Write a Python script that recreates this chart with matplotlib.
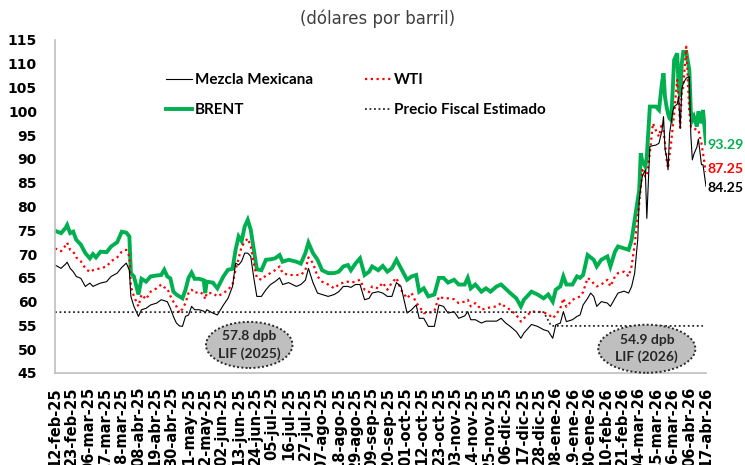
# -*- coding: utf-8 -*-
# Precios del petróleo: Mezcla Mexicana, WTI y BRENT (dólares por barril)
import pandas as pd
import matplotlib
matplotlib.use('Agg')
import matplotlib.pyplot as plt
import matplotlib.dates as mdates
from matplotlib.patches import Ellipse

inicio = pd.Timestamp('2025-02-12')  # día 0 del eje

# días transcurridos desde el 12-feb-25
dias = [0, 4, 7, 8, 10, 12, 14, 17, 20, 23, 25, 27, 30, 34, 37, 41, 44, 47, 49, 50,
        52, 55, 57, 60, 63, 67, 70, 72, 74, 76, 78, 80, 82, 84, 86, 88, 90, 92, 95, 98,
        99, 100, 104, 107, 111, 114, 117, 119, 121, 123, 125, 127, 129, 131, 133, 136, 139, 142, 145, 148,
        150, 154, 159, 162, 165, 167, 170, 173, 176, 180, 184, 187, 190, 193, 195, 198, 201, 204, 207, 209,
        213, 216, 219, 222, 225, 228, 232, 235, 238, 240, 243, 246, 250, 253, 256, 259, 263, 266, 270, 272,
        274, 277, 281, 284, 287, 291, 294, 297, 300, 304, 307, 309, 314, 318, 322, 325, 328, 330, 333, 335,
        337, 341, 344, 346, 348, 351, 353, 355, 357, 360, 364, 366, 369, 371, 375, 378, 380, 382, 384, 385,
        386, 387, 389, 390, 392, 394, 396, 398, 400, 401, 402, 403, 404, 405, 406, 407, 408, 410, 411, 412,
        413, 414, 416, 418, 419, 420, 421, 423, 424, 426, 427, 429]

brent = [74.9, 74.4, 75.5, 76.1, 74.4, 74.7, 73.0, 72.0, 70.2, 69.1, 70.0, 69.3, 70.5, 70.4, 71.6, 72.5, 74.7, 74.5, 73.7, 66.0,
         65.3, 61.5, 64.8, 64.2, 65.3, 65.5, 65.6, 66.7, 65.3, 64.9, 62.1, 61.5, 61.1, 60.7, 62.5, 65.0, 66.1, 64.8, 64.8, 64.5,
         61.8, 64.2, 64.0, 62.8, 65.3, 66.7, 66.9, 70.9, 73.7, 72.7, 75.8, 77.2, 75.1, 70.9, 66.8, 66.6, 68.8, 68.9, 69.1, 69.8,
         68.4, 68.8, 68.4, 68.0, 70.2, 72.4, 70.2, 68.8, 66.6, 66.0, 66.0, 66.3, 67.4, 67.7, 66.6, 68.0, 69.1, 65.6, 66.3, 67.4,
         66.6, 67.5, 66.3, 67.0, 68.8, 67.0, 64.6, 65.3, 65.6, 62.1, 62.8, 61.1, 61.5, 65.0, 65.0, 64.0, 64.6, 63.6, 63.6, 65.0,
         62.8, 63.6, 62.1, 62.8, 62.1, 63.2, 63.6, 62.7, 61.8, 60.7, 59.0, 60.4, 62.1, 61.5, 60.7, 61.5, 60.0, 62.5, 63.2, 65.3,
         63.6, 63.6, 65.3, 65.0, 65.6, 69.8, 69.3, 68.8, 67.4, 68.8, 69.5, 67.4, 70.5, 71.6, 71.2, 70.9, 73.0, 77.2, 81.4, 83.5,
         91.2, 89.5, 88.4, 90.5, 101.0, 101.0, 101.0, 100.3, 106.0, 108.0, 103.0, 101.0, 99.5, 98.5, 98.2, 104.0, 110.8, 112.2, 105.0, 103.1,
         110.0, 112.5, 112.5, 108.7, 100.0, 98.2, 98.9, 96.8, 100.0, 97.5, 100.3, 93.29]

wti = [71.2, 70.6, 71.8, 72.4, 70.9, 70.5, 69.3, 68.5, 67.0, 66.2, 66.6, 66.8, 67.0, 67.4, 68.5, 69.3, 70.5, 70.9, 69.5, 63.2,
       61.1, 59.0, 61.5, 60.5, 62.1, 62.8, 63.6, 63.0, 62.8, 61.2, 60.0, 59.0, 57.6, 58.5, 59.7, 61.8, 62.5, 61.8, 62.1, 61.5,
       60.5, 61.8, 61.8, 61.1, 61.8, 62.5, 63.6, 66.7, 69.1, 71.6, 72.5, 73.3, 71.6, 68.1, 65.0, 64.6, 65.5, 66.0, 66.6, 67.4,
       66.0, 65.6, 65.6, 65.6, 66.6, 69.3, 68.1, 65.3, 64.2, 63.6, 62.8, 63.6, 64.0, 64.2, 64.0, 64.2, 64.6, 62.5, 62.0, 63.2,
       62.8, 64.0, 62.5, 64.0, 65.0, 62.5, 60.7, 61.8, 59.8, 59.0, 57.6, 57.6, 58.0, 61.1, 60.7, 60.7, 60.5, 59.7, 60.0, 60.4,
       59.0, 59.7, 58.3, 58.6, 58.8, 59.0, 59.7, 58.8, 58.3, 57.2, 55.8, 56.5, 57.9, 57.9, 57.7, 57.4, 56.5, 57.2, 58.6, 60.7,
       58.9, 60.4, 60.8, 61.1, 62.0, 65.0, 64.5, 63.8, 63.2, 63.6, 64.6, 63.2, 65.3, 66.0, 66.3, 65.3, 67.5, 72.0, 78.0, 80.7,
       84.0, 87.7, 86.3, 86.3, 91.2, 97.5, 96.0, 94.7, 97.5, 96.0, 93.3, 90.0, 88.0, 91.0, 93.3, 96.5, 99.6, 106.6, 103.0, 96.6,
       104.0, 105.2, 113.6, 100.0, 96.8, 96.8, 96.4, 96.1, 96.1, 93.3, 91.2, 87.25]

mezcla = [67.7, 67.0, 67.9, 68.3, 67.0, 66.3, 65.3, 64.9, 63.2, 63.9, 63.2, 63.5, 63.9, 64.2, 65.3, 66.0, 67.2, 68.1, 66.6, 61.1,
          59.0, 56.9, 58.3, 58.6, 59.3, 59.7, 60.4, 60.2, 60.0, 58.6, 56.9, 55.5, 54.9, 54.8, 56.9, 57.2, 59.0, 58.3, 58.3, 58.0,
          57.6, 58.3, 57.6, 57.2, 59.3, 60.7, 63.2, 68.1, 67.7, 68.5, 70.2, 70.2, 69.5, 65.0, 61.1, 61.1, 62.5, 63.6, 64.2, 65.0,
          63.6, 64.0, 63.2, 63.6, 64.5, 67.0, 64.0, 61.8, 61.5, 61.1, 61.5, 62.1, 63.2, 63.2, 63.0, 63.6, 63.6, 60.4, 60.7, 61.8,
          62.1, 61.8, 61.1, 61.1, 64.0, 63.2, 57.6, 58.3, 59.3, 56.5, 56.5, 54.8, 54.8, 59.3, 59.0, 57.6, 57.9, 56.5, 57.0, 57.9,
          56.2, 56.2, 55.5, 55.9, 55.9, 55.9, 56.5, 55.5, 54.8, 53.7, 52.3, 53.4, 55.2, 54.8, 54.1, 53.8, 52.3, 55.1, 55.5, 57.9,
          55.8, 56.2, 56.9, 57.2, 59.3, 60.7, 61.8, 61.1, 59.0, 60.0, 59.7, 59.0, 60.7, 61.8, 62.2, 61.8, 63.2, 66.0, 73.0, 81.4,
          84.0, 86.3, 87.7, 77.5, 92.6, 92.8, 92.9, 93.3, 96.0, 98.9, 92.0, 90.5, 87.7, 95.3, 97.5, 99.9, 101.0, 101.5, 103.1, 96.4,
          104.5, 105.9, 107.0, 107.3, 95.0, 89.8, 91.0, 92.5, 94.2, 88.8, 88.8, 84.25]

# precio fiscal estimado (LIF 2025 y LIF 2026)
dias_fiscal = [0, 322, 327, 427]
precio_fiscal = [57.8, 57.8, 54.9, 54.9]

meses = ['ene', 'feb', 'mar', 'abr', 'may', 'jun', 'jul', 'ago', 'sep', 'oct', 'nov', 'dic']

fechas = inicio + pd.to_timedelta(dias, unit='D')
fechas_fiscal = inicio + pd.to_timedelta(dias_fiscal, unit='D')

verde = '#00B050'
rojo = '#FF0000'

fig = plt.figure(figsize=(7.45, 4.65), dpi=100)
ax = fig.add_axes([55/745, 92/465, 651/745, 333/465])

l_brent, = ax.plot(fechas, brent, color=verde, lw=2.8, solid_joinstyle='miter', label='BRENT')
l_wti, = ax.plot(fechas, wti, color=rojo, lw=1.6, linestyle=(0, (1, 1.6)), label='WTI')
l_mez, = ax.plot(fechas, mezcla, color='black', lw=0.8, label='Mezcla Mexicana')
l_fis, = ax.plot(fechas_fiscal, precio_fiscal, color='#262626', lw=1.3, linestyle=(0, (1, 1.5)),
                 label='Precio Fiscal Estimado')

# etiquetas del último dato
fuente_b = dict(family='Lato', weight='bold', fontsize=10.2)
ax.annotate(f'{brent[-1]:.2f}', (fechas[-1], brent[-1]), xytext=(1, -1), textcoords='offset points',
            color=verde, va='center', ha='left', annotation_clip=False, **fuente_b)
ax.annotate(f'{wti[-1]:.2f}', (fechas[-1], wti[-1]), xytext=(1, 2), textcoords='offset points',
            color=rojo, va='center', ha='left', annotation_clip=False, **fuente_b)
ax.annotate(f'{mezcla[-1]:.2f}', (fechas[-1], mezcla[-1]), xytext=(1, -1), textcoords='offset points',
            color='black', va='center', ha='left', annotation_clip=False, **fuente_b)

# óvalos con el precio fiscal
ovalos = [(pd.Timestamp('2025-06-20'), 50.9, 57, 9.7, '57.8 dpb\nLIF (2025)'),
          (pd.Timestamp('2026-03-09'), 50.1, 64, 10.1, '54.9 dpb\nLIF (2026)')]
for fecha, yc, ancho, alto, texto in ovalos:
    e = Ellipse((mdates.date2num(fecha), yc), ancho, alto, facecolor='#BFBFBF',
                edgecolor='#262626', lw=1.4, linestyle=(0, (1, 1.2)), zorder=5, clip_on=False)
    ax.add_patch(e)
    ax.text(fecha, yc, texto, ha='center', va='center', linespacing=1.45, zorder=6,
            family='Lato', weight='bold', fontsize=10, color='#262626')

ax.set_ylim(45, 115)
ax.set_yticks(range(45, 116, 5))
ax.set_xlim(pd.Timestamp('2025-02-12'), pd.Timestamp('2026-04-17'))
marcas = pd.date_range('2025-02-12', '2026-04-17', freq='11D')
ax.set_xticks(marcas)
ax.set_xticklabels([f'{d.day:02d}-{meses[d.month-1]}-{d.strftime("%y")}' for d in marcas],
                   rotation=90, fontsize=10.5, fontweight='bold')
for t in ax.get_yticklabels():
    t.set_fontsize(10)
    t.set_fontweight('bold')
ax.tick_params(axis='both', length=0)
ax.tick_params(axis='y', pad=13)
ax.tick_params(axis='x', pad=10)

for lado in ['top', 'right']:
    ax.spines[lado].set_visible(False)
for lado in ['left', 'bottom']:
    ax.spines[lado].set_color('#BFBFBF')
    ax.spines[lado].set_linewidth(1.2)

ax.legend(handles=[l_mez, l_brent, l_wti, l_fis], ncol=2, frameon=False,
          loc='upper left', bbox_to_anchor=(166/745, 1 - 73/465), bbox_transform=fig.transFigure,
          prop=dict(family='Lato', weight='bold', size=11), handlelength=1.7, handletextpad=0.2,
          columnspacing=3.4, labelspacing=1.05, borderpad=0, borderaxespad=0)

fig.text(378/745, 1 - 19/465, '(dólares por barril)', ha='center', va='center',
         fontsize=12, color='#404040')

plt.savefig('out.png', dpi=100)
